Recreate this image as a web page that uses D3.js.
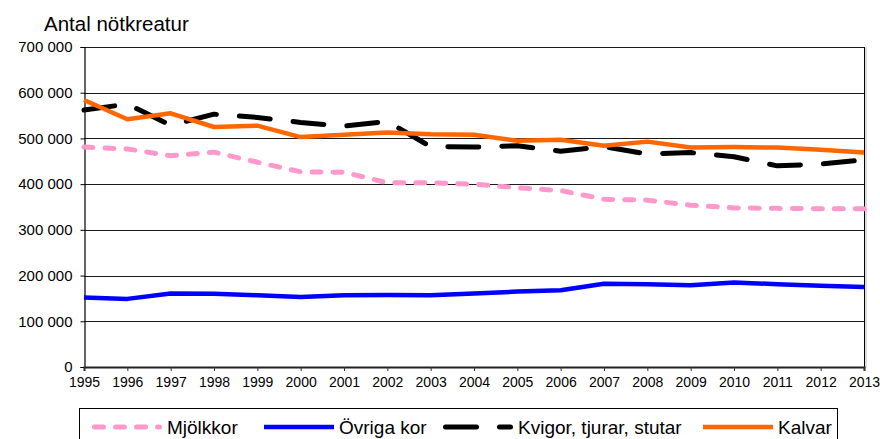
<!DOCTYPE html>
<html>
<head>
<meta charset="utf-8">
<script src="https://cdn.jsdelivr.net/npm/d3@7"></script>
<style>
  html, body { margin: 0; padding: 0; background: #fff; }
  svg { display: block; font-family: "Liberation Sans", Arial, sans-serif; }
</style>
</head>
<body>
<svg id="chart" width="880" height="439"></svg>
<script>
const years = [1995,1996,1997,1998,1999,2000,2001,2002,2003,2004,2005,2006,2007,2008,2009,2010,2011,2012,2013];
const mjolkkor = [481000,477000,462000,470000,448000,427000,426000,403000,403000,400000,392000,386000,367000,365000,354000,348000,347000,346000,346000];
const ovrigaKor = [152000,149000,161000,160000,157000,153000,157000,157500,157000,161000,165000,168000,182000,181000,179000,185000,181000,178000,175000];
const kvigor = [562000,575000,529000,553000,546000,535000,527000,537000,482000,481000,484000,472000,482000,466000,469000,460000,440000,444000,453000];
const kalvar = [584000,542000,555000,525000,528000,503000,508000,513000,509000,508000,495000,497000,484000,493000,480000,481000,480000,475000,469000];
const seriesNames = ["Mjölkkor","Övriga kor","Kvigor, tjurar, stutar","Kalvar"];
const yTicks = [0,100000,200000,300000,400000,500000,600000,700000];
const title = "Antal nötkreatur";

const svg = d3.select("#chart");
const pLeft = 84, pRight = 864, pTop = 47, pBottom = 367;

const x = d3.scaleLinear().domain([years[0], years[years.length-1]]).range([pLeft, pRight]);
const y = d3.scaleLinear().domain([0, 700000]).range([pBottom, pTop]);

const fmt = v => v === 0 ? "0" : d3.format(",")(v).replace(/,/g, " ");

// gridlines
svg.append("g").selectAll("line").data(yTicks.filter(d => d > 0)).join("line")
  .attr("x1", pLeft).attr("x2", pRight)
  .attr("y1", d => Math.round(y(d)) + 0.5).attr("y2", d => Math.round(y(d)) + 0.5)
  .attr("stroke", "#1a1a1a").attr("stroke-width", 1);

// right border
svg.append("line").attr("x1", pRight + 0.5).attr("x2", pRight + 0.5).attr("y1", pTop).attr("y2", pBottom)
  .attr("stroke", "#000").attr("stroke-width", 1);
svg.append("line").attr("x1", pRight + 2).attr("x2", pRight + 2).attr("y1", pTop).attr("y2", pBottom + 1)
  .attr("stroke", "#d0d0d0").attr("stroke-width", 1.5);

// y axis
const yAxis = d3.axisLeft(y).tickValues(yTicks).tickFormat(fmt).tickSize(4).tickPadding(8);
const gy = svg.append("g").attr("transform", `translate(${pLeft + 0.5},0)`).call(yAxis);
gy.select(".domain").attr("stroke", "#000").attr("stroke-width", 1.2);
gy.selectAll(".tick line").attr("stroke", "#000");
gy.selectAll(".tick text").attr("font-size", "15px").attr("fill", "#000")
  .attr("font-family", "Liberation Sans, Arial, sans-serif");

// x axis
const xAxis = d3.axisBottom(x).tickValues(years).tickFormat(d3.format("d")).tickSize(4).tickPadding(6);
const gx = svg.append("g").attr("transform", `translate(0,${pBottom})`).call(xAxis);
gx.select(".domain").attr("stroke", "#222").attr("stroke-width", 2);
gx.selectAll(".tick line").attr("stroke", "#333");
gx.selectAll(".tick text").attr("font-size", "14px").attr("fill", "#000")
  .attr("font-family", "Liberation Sans, Arial, sans-serif");

// title
svg.append("text").attr("x", 44).attr("y", 31).attr("font-size", "20.5px").attr("fill", "#000").text(title);

// series
const series = [
  { name: seriesNames[0], values: mjolkkor, color: "#FF99CC", width: 5, dash: "9,12", cap: "round" },
  { name: seriesNames[1], values: ovrigaKor, color: "#0000FF", width: 4.5, dash: null, cap: "butt" },
  { name: seriesNames[2], values: kvigor, color: "#000000", width: 5, dash: "31,23", cap: "round" },
  { name: seriesNames[3], values: kalvar, color: "#FF6600", width: 4.5, dash: null, cap: "butt" }
];

const line = d3.line().x((d, i) => x(years[i])).y(d => y(d));
series.forEach(s => {
  svg.append("path").datum(s.values)
    .attr("d", line)
    .attr("fill", "none")
    .attr("stroke", s.color)
    .attr("stroke-width", s.width)
    .attr("stroke-linejoin", "round")
    .attr("stroke-linecap", s.cap)
    .attr("stroke-dasharray", s.dash);
});

// legend
const lg = svg.append("g");
lg.append("rect").attr("x", 79.5).attr("y", 408.5).attr("width", 758).attr("height", 40)
  .attr("fill", "#fff").attr("stroke", "#000").attr("stroke-width", 1);
const legendX = [92, 264, 443, 703];
const ly = 427;
series.forEach((s, i) => {
  const lx = legendX[i];
  lg.append("line").attr("x1", lx + (s.cap === "round" ? 2.5 : 0)).attr("x2", lx + 70 - (s.cap === "round" ? 2.5 : 0))
    .attr("y1", ly).attr("y2", ly)
    .attr("stroke", s.color).attr("stroke-width", s.width)
    .attr("stroke-linecap", s.cap)
    .attr("stroke-dasharray", s.dash);
  lg.append("text").attr("x", lx + 75).attr("y", ly + 6.5)
    .attr("font-size", "19px").attr("fill", "#000").text(s.name);
});
</script>
</body>
</html>
